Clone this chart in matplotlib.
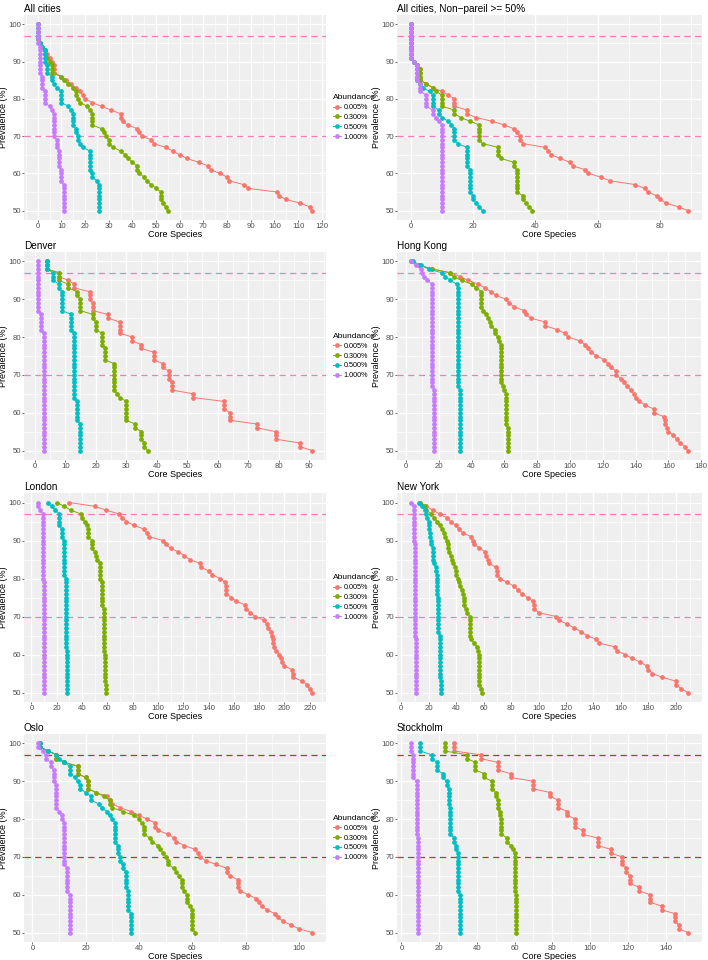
import numpy as np
import matplotlib
matplotlib.use('Agg')
import matplotlib.pyplot as plt
from matplotlib.ticker import MultipleLocator

plt.rcParams['font.family'] = ['Liberation Sans', 'DejaVu Sans']

# prevalence thresholds, read top to bottom
prevalence = list(range(100, 49, -1))
abundance_labels = ['0.005%', '0.300%', '0.500%', '1.000%']
colors = ['#F8766D', '#7CAE00', '#00BFC4', '#C77CFF']

# core species counts for each abundance level (prevalence 100 -> 50)
all_red = [0,0,0,0,0,1,2,3,4,5,6,7,7,7,10,12,14,16,18,19,20,23,27,31,35,35,36,38,42,43,44,48,49,54,57,60,63,68,72,73,77,80,81,87,89,101,102,105,111,115,116]
all_green = [0,0,0,0,0,1,2,3,3,4,5,6,6,6,10,11,13,15,16,16,17,18,21,22,23,23,23,23,27,28,29,30,30,32,35,37,38,40,42,42,43,45,46,48,50,52,52,52,53,54,55]
all_cyan = [0,0,0,0,0,1,2,3,3,3,3,4,4,4,6,6,7,8,10,10,10,10,13,14,15,15,15,15,16,16,17,17,18,19,22,22,22,22,22,22,23,23,25,26,26,26,26,26,26,26,26]
all_purple = [0,0,0,0,0,0,1,1,1,1,1,1,1,1,2,2,2,2,3,3,3,3,5,6,7,7,7,7,7,7,7,8,8,8,9,9,9,9,9,10,10,10,10,11,11,11,11,11,11,11,11]

np_red = [0,0,0,0,0,0,0,0,0,0,1,2,3,3,3,3,5,7,10,12,14,14,14,18,18,21,26,30,33,34,35,35,36,43,44,45,48,51,52,56,57,61,64,72,75,76,79,80,82,86,89]
np_green = [0,0,0,0,0,0,0,0,0,0,1,2,3,3,3,3,5,7,8,10,10,10,10,14,14,16,19,22,22,22,22,22,23,28,28,28,29,33,33,34,34,34,34,34,34,34,36,36,37,38,39]
np_cyan = [0,0,0,0,0,0,0,0,0,0,1,2,2,2,2,2,3,4,6,7,7,7,7,9,9,10,12,13,14,14,14,14,15,18,18,18,18,18,18,19,19,19,19,19,19,19,20,20,21,22,23]
np_purple = [0,0,0,0,0,0,0,0,0,0,1,2,2,2,2,2,3,3,3,5,5,5,5,7,7,8,9,10,10,10,10,10,10,10,10,10,10,10,10,10,10,10,10,10,10,10,10,10,10,10,10]

den_red = [4,4,4,8,8,11,13,13,18,18,18,19,19,19,24,24,28,28,28,28,32,32,35,35,39,39,39,42,42,44,44,44,45,45,45,52,52,62,62,62,64,64,64,73,73,79,79,79,87,87,91]
den_green = [4,4,4,8,8,8,11,11,14,14,15,15,15,15,19,19,20,20,20,22,22,22,22,23,23,23,23,26,26,26,26,26,26,26,26,27,28,30,30,30,30,30,30,33,33,35,35,35,36,36,37]
den_cyan = [4,4,4,6,6,6,8,8,9,9,9,9,9,9,12,12,12,12,12,13,13,13,13,13,13,13,13,13,13,13,13,13,13,13,13,13,13,14,14,14,14,14,14,15,15,15,15,15,15,15,15]
den_purple = [1,1,1,1,1,1,1,1,1,1,1,1,1,1,2,2,2,2,2,3,3,3,3,3,3,3,3,3,3,3,3,3,3,3,3,3,3,3,3,3,3,3,3,3,3,3,3,3,3,3,3]

hk_red = [3,8,16,27,33,38,44,48,52,55,61,63,66,72,73,76,85,85,92,97,99,106,109,111,113,116,121,123,125,128,128,131,133,135,137,139,140,142,146,151,151,157,158,158,159,160,163,165,167,170,172]
hk_green = [3,8,16,27,29,34,40,43,46,46,46,46,46,47,49,50,51,52,54,54,56,57,58,58,58,58,58,58,58,58,58,58,58,59,60,61,61,61,61,61,61,61,61,61,62,62,62,62,62,62,62]
hk_cyan = [4,9,14,22,24,27,31,32,32,32,32,32,32,32,32,32,32,32,32,32,32,32,32,32,32,32,32,32,32,32,32,32,32,32,33,33,33,33,33,33,33,33,33,33,33,33,33,33,33,33,33]
hk_purple = [3,6,9,10,11,13,16,16,16,16,16,16,16,16,16,16,16,16,16,16,16,16,16,16,16,16,16,16,16,16,16,16,16,16,17,17,17,17,17,17,17,17,17,17,17,17,17,17,17,17,17]

lon_red = [30,50,59,69,72,75,81,89,91,93,104,106,110,116,121,125,133,134,140,143,149,153,154,154,154,158,162,169,170,173,177,184,186,187,189,190,191,191,192,193,196,197,198,200,206,207,207,214,218,220,222]
lon_green = [20,26,31,39,40,42,44,45,45,45,48,48,48,50,51,52,54,54,54,54,54,56,56,56,56,56,56,56,57,57,57,57,57,57,57,57,57,57,57,57,58,58,58,58,58,58,58,58,59,59,59]
lon_cyan = [13,16,19,22,22,22,22,24,24,24,26,26,26,26,26,26,26,26,26,26,27,27,27,27,27,27,27,27,27,27,27,27,27,27,27,27,27,27,27,28,28,28,28,28,28,28,28,28,28,28,28]
lon_purple = [5,5,7,9,9,9,9,9,9,9,9,9,9,9,9,9,9,9,9,9,9,10,10,10,10,10,10,10,10,10,10,10,10,10,10,10,10,10,10,10,10,10,10,10,10,10,10,10,10,10,10]

ny_red = [14,18,23,28,33,36,40,42,45,51,52,53,57,61,62,63,64,69,70,70,72,77,82,85,88,92,96,97,97,100,113,115,121,126,131,135,142,144,156,157,163,168,174,179,180,183,190,200,200,204,209]
ny_green = [14,17,18,22,24,26,28,30,31,32,33,34,34,35,36,37,38,39,40,40,41,42,43,44,45,46,46,46,47,48,50,50,50,50,50,50,51,53,55,56,57,57,57,57,57,57,57,57,57,58,59]
ny_cyan = [13,15,17,18,19,20,20,20,21,21,22,22,23,23,23,23,24,25,25,26,26,26,26,26,26,27,27,27,27,27,27,27,27,27,27,28,28,28,28,28,28,28,28,28,28,28,28,29,29,29,29]
ny_purple = [7,9,9,9,9,9,9,9,9,9,9,10,10,10,10,10,10,10,10,10,10,10,10,10,10,10,10,10,10,10,10,10,10,10,10,10,11,11,11,11,11,11,11,11,11,11,11,11,11,11,11]

oslo_red = [3,3,6,9,9,12,17,17,17,20,21,21,21,24,28,29,30,33,37,40,43,46,46,47,51,53,54,57,61,62,63,65,69,73,73,74,77,77,77,78,81,84,85,86,88,91,92,94,97,100,105]
oslo_green = [3,3,6,9,9,12,17,17,17,20,21,21,21,24,27,29,29,30,34,38,40,41,42,42,42,44,45,47,48,49,50,51,51,53,54,55,56,56,56,57,58,58,58,59,60,60,60,60,60,60,61]
oslo_cyan = [3,3,6,9,10,12,14,14,14,16,17,18,18,20,22,22,25,26,28,29,30,31,31,31,31,31,31,32,32,32,33,33,34,34,35,35,35,35,35,36,36,36,36,36,36,37,37,37,37,37,37]
oslo_purple = [2,2,4,5,5,7,7,8,8,8,8,9,9,9,9,9,9,9,10,11,11,12,12,12,12,12,12,12,12,12,12,12,12,13,13,13,13,13,13,13,14,14,14,14,14,14,14,14,14,14,14]

sto_red = [28,28,28,42,42,51,51,51,58,58,70,70,70,79,79,83,83,83,88,88,92,92,92,96,96,104,104,104,111,111,117,117,117,119,119,121,121,121,126,126,132,132,132,138,138,145,145,145,147,147,152]
sto_green = [23,23,23,35,35,39,39,39,44,44,48,48,48,50,50,51,51,51,52,52,53,53,53,53,53,56,56,58,59,60,60,60,60,60,60,60,60,60,60,60,61,61,61,61,61,61,61,61,61,61,61]
sto_cyan = [10,10,10,16,16,19,19,19,22,22,24,24,25,25,25,25,25,26,26,26,26,26,26,26,26,28,28,29,29,30,30,30,30,30,30,30,30,30,30,30,31,31,31,31,31,31,31,31,31,31,31]
sto_purple = [5,5,5,6,6,6,6,6,6,6,8,8,8,8,8,8,8,8,8,8,8,8,8,8,8,9,9,9,9,9,9,9,9,9,9,9,9,9,9,9,9,9,9,9,9,9,9,9,9,9,9]

titles = ['All cities', 'All cities, Non\u2212pareil >= 50%', 'Denver', 'Hong Kong',
          'London', 'New York', 'Oslo', 'Stockholm']
panel_series = [
    [all_red, all_green, all_cyan, all_purple],
    [np_red, np_green, np_cyan, np_purple],
    [den_red, den_green, den_cyan, den_purple],
    [hk_red, hk_green, hk_cyan, hk_purple],
    [lon_red, lon_green, lon_cyan, lon_purple],
    [ny_red, ny_green, ny_cyan, ny_purple],
    [oslo_red, oslo_green, oslo_cyan, oslo_purple],
    [sto_red, sto_green, sto_cyan, sto_purple],
]
x_steps = [10, 20, 10, 20, 20, 20, 20, 20]
line_colors = ['#F37DBA'] * 6 + ['#D42A24'] * 2

W, H = 708, 960
fig = plt.figure(figsize=(W / 100, H / 100), dpi=100)

col_x = [24, 397]
panel_w = [302, 305]
rows = [(15, 220), (252, 460), (493, 702), (734, 942)]

for i, (title, series) in enumerate(zip(titles, panel_series)):
    r, c = divmod(i, 2)
    top, bot = rows[r]
    ax = fig.add_axes([col_x[c] / W, 1 - bot / H, panel_w[c] / W, (bot - top) / H])
    ax.set_facecolor('#EFEFEF')
    for s in ax.spines.values():
        s.set_visible(False)

    allx = np.concatenate([np.array(s) for s in series])
    lo, hi = allx.min(), allx.max()
    pad = (hi - lo) * 0.05
    ax.set_xlim(lo - pad, hi + pad)
    ax.set_ylim(47.5, 102.5)
    step = x_steps[i]
    ax.xaxis.set_major_locator(MultipleLocator(step))
    ax.xaxis.set_minor_locator(MultipleLocator(step / 2))
    ax.yaxis.set_major_locator(MultipleLocator(10))
    ax.yaxis.set_minor_locator(MultipleLocator(5))
    ax.grid(which='major', color='white', lw=0.9)
    ax.grid(which='minor', color='white', lw=0.45)
    ax.set_axisbelow(True)
    ax.tick_params(which='major', length=1.5, width=0.5, color='#333333',
                   labelsize=5.6, labelcolor='#4D4D4D', pad=0.8)
    ax.tick_params(which='minor', length=0)

    for y in (97, 70):
        ax.axhline(y, color=line_colors[i], lw=0.9, ls=(0, (5, 3.5)), zorder=1.5)

    for xs, col, lab in zip(series, colors, abundance_labels):
        ax.plot(xs, prevalence, '-o', color=col, lw=0.7, ms=2.4, label=lab, zorder=2)

    ax.set_title(title, loc='left', fontsize=7.2, pad=2.5)
    ax.set_xlabel('Core Species', fontsize=6.5, labelpad=0)
    ax.set_ylabel('Prevalence (%)', fontsize=6.5, labelpad=0.2)

    if c == 0:
        ax.legend(loc='center left', bbox_to_anchor=(1.02, 0.5), frameon=False,
                  fontsize=5.2, title='Abundance', title_fontsize=6,
                  handlelength=1.2, handletextpad=0.3, labelspacing=0.4,
                  borderaxespad=0, borderpad=0.1, alignment='left')

fig.savefig('out.png', dpi=100)
